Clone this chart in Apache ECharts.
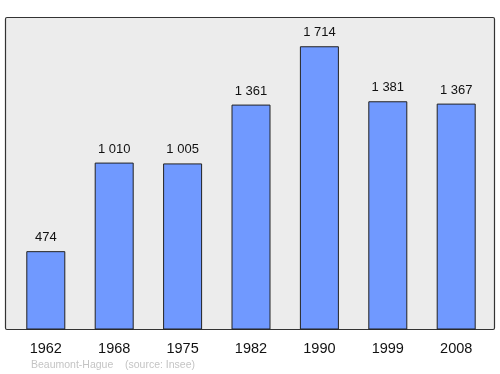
<!DOCTYPE html>
<html><head><meta charset="utf-8">
<script src="https://cdn.jsdelivr.net/npm/echarts@6/dist/echarts.min.js"></script>
<style>html,body{margin:0;padding:0;background:#fff}#c{width:500px;height:374px}</style>
</head><body><div id="c"></div>
<script>
const years = ['1962','1968','1975','1982','1990','1999','2008'];
const population = [474, 1010, 1005, 1361, 1714, 1381, 1367];
const valueLabels = ['474','1 010','1 005','1 361','1 714','1 381','1 367'];
const placeName = 'Beaumont-Hague';
const sourceText = '(source: Insee)';

const chart = echarts.init(document.getElementById('c'), null, {renderer:'canvas'});
chart.setOption({
  animation: false,
  graphic: [
    {type:'rect', z:-10, shape:{x:5.5, y:17.5, width:489, height:312, r:1.5},
     style:{fill:'#ececec', stroke:'#333', lineWidth:1.2}},
    {type:'text', left:31, top:360, style:{text:placeName, fill:'#c4c4c4', font:'10.5px "Liberation Sans", Arial, sans-serif'}},
    {type:'text', left:125, top:360, style:{text:sourceText, fill:'#c4c4c4', font:'10.5px "Liberation Sans", Arial, sans-serif'}}
  ],
  grid: {left: 11.6, right: 9.6, top: 17, bottom: 44.5},
  xAxis: {
    type:'category', data: years,
    axisLine:{show:false}, axisTick:{show:false},
    axisLabel:{color:'#111', fontSize:14.5, fontFamily:'"Liberation Sans", Arial, sans-serif', margin:12}
  },
  yAxis: {type:'value', min:0, max:1891, show:false, splitLine:{show:false}},
  series: [{
    type:'bar', data: population, barWidth: 39,
    itemStyle:{color:'#7099ff', borderColor:'#222', borderWidth:1},
    label:{show:true, position:'top', distance:7, color:'#111', fontSize:13,
      fontFamily:'"Liberation Sans", Arial, sans-serif',
      formatter: p => valueLabels[p.dataIndex]}
  }]
});
</script></body></html>
